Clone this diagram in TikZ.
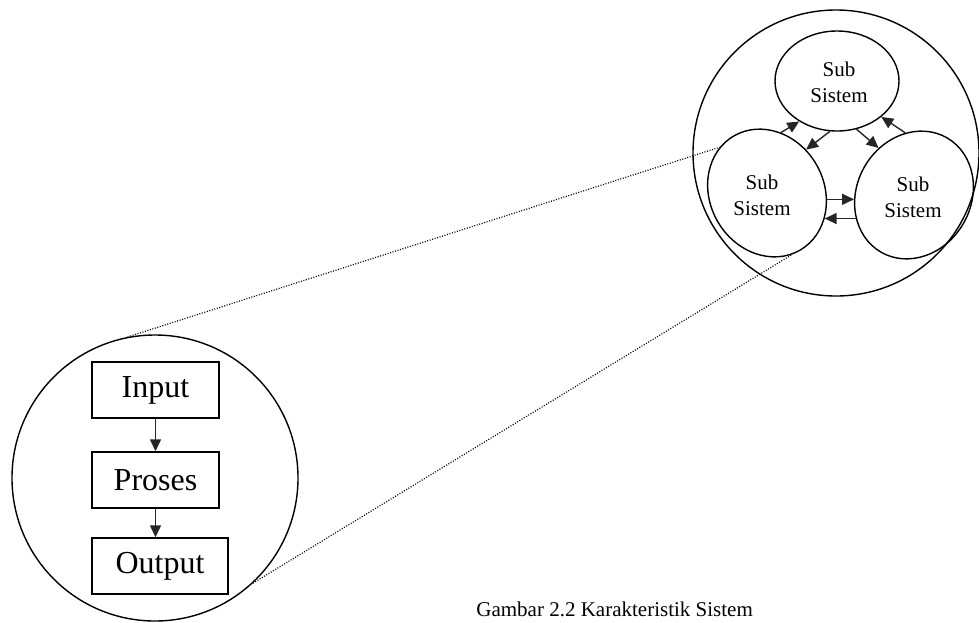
\documentclass[tikz,border=0pt]{standalone}
\usepackage{fontspec}
\setmainfont{Liberation Serif}
\usetikzlibrary{arrows.meta,shapes.geometric}

\begin{document}
\begin{tikzpicture}[x=0.5pt,y=-0.5pt,
  big/.style={circle,draw,line width=0.7pt,minimum size=143pt,inner sep=0pt},
  box/.style={draw,line width=0.7pt,minimum height=28pt,inner sep=0pt,font=\fontsize{16}{19}\selectfont},
  sub/.style={ellipse,draw,line width=0.7pt,minimum width=57pt,minimum height=66pt,inner sep=0pt},
  subtext/.style={align=center,inner sep=0pt,font=\fontsize{10.5}{13}\selectfont},
  arr/.style={line width=0.7pt,draw=black!85,-{Triangle[length=6pt,width=5.5pt]}},
  zoomline/.style={line width=0.6pt,dash pattern=on 0.5pt off 0.8pt}]
\useasboundingbox (0,0) rectangle (979,622);
\begin{scope}
\node[big] (sys) at (155,478) {};
\node[box,minimum width=63.5pt] (input) at (155.5,390) {Input};
\node[box,minimum width=63.5pt] (proses) at (155.5,480) {Proses};
\node[box,minimum width=68pt] (output) at (160,566) {Output};
\draw[arr] (input) -- (proses);
\draw[arr] (proses.south) -- (proses.south |- output.north);
\end{scope}
\begin{scope}
\node[big] (whole) at (836,153) {};
\node[sub,minimum width=62pt,minimum height=50pt] (tsub) at (837,81) {};
\node[sub,rotate=30] (lsub) at (767,193) {};
\node[sub,rotate=-30] (rsub) at (914,195) {};
\node[subtext] (ttxt) at (839,82) {Sub\\Sistem};
\node[subtext] (ltxt) at (762,195) {Sub\\Sistem};
\node[subtext] (rtxt) at (913,197) {Sub\\Sistem};
\draw[arr] (lsub.47) -- (tsub.227);
\draw[arr] (tsub.262) -- (lsub.18);
\draw[arr] (tsub.292) -- (rsub.157);
\draw[arr] (rsub.128) -- (tsub.321);
\draw[arr] (lsub.324) -- (lsub.324 -| rsub.213);
\draw[arr] (rsub.232) -- (rsub.232 -| lsub.306);
\end{scope}
\draw[zoomline] (sys.101) -- (lsub.106);
\draw[zoomline] (sys.313) -- (lsub.262);
\node[anchor=base west,inner sep=0pt,font=\fontsize{10.5}{12}\selectfont] (cap) at (476,616) {Gambar 2.2 Karakteristik Sistem};
\end{tikzpicture}
\end{document}
